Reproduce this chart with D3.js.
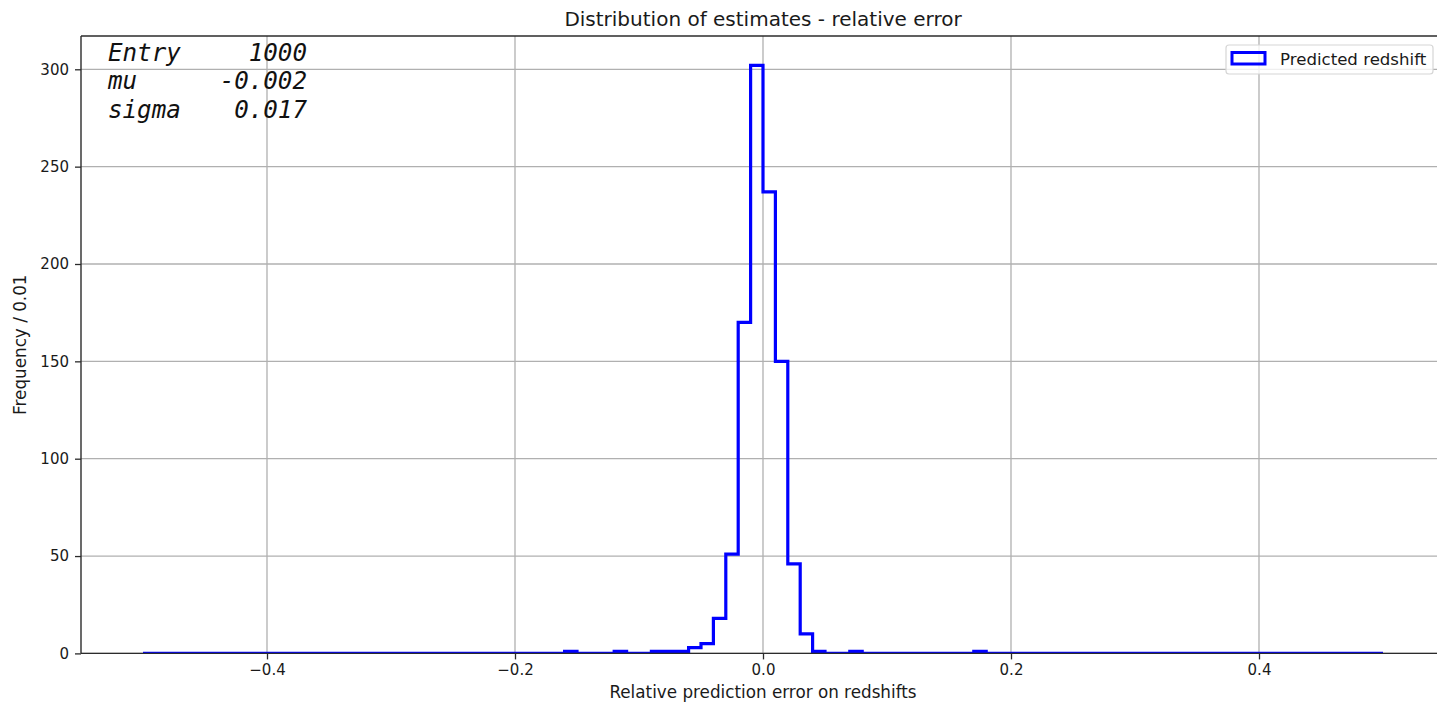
<!DOCTYPE html>
<html>
<head>
<meta charset="utf-8">
<script src="https://cdn.jsdelivr.net/npm/d3@7"></script>
<style>
  html, body { margin: 0; padding: 0; background: #fff; }
  svg { display: block; font-family: "DejaVu Sans", sans-serif; }
</style>
</head>
<body>
<svg id="chart" width="1437" height="705"></svg>
<script>
// ---- data ----
const binStart = -0.5;
const binWidth = 0.01;
const counts = [
  0, 0, 0, 0, 0, 0, 0, 0, 0, 0,
  0, 0, 0, 0, 0, 0, 0, 0, 0, 0,
  0, 0, 0, 0, 0, 0, 0, 0, 0, 0,
  0, 0, 0, 0, 1, 0, 0, 0, 1, 0,
  0, 1, 1, 1, 3, 5, 18, 51, 170, 302,
  237, 150, 46, 10, 1, 0, 0, 1, 0, 0,
  0, 0, 0, 0, 0, 0, 0, 1, 0, 0,
  0, 0, 0, 0, 0, 0, 0, 0, 0, 0,
  0, 0, 0, 0, 0, 0, 0, 0, 0, 0,
  0, 0, 0, 0, 0, 0, 0, 0, 0, 0
];
const xTicks = [-0.4, -0.2, 0.0, 0.2, 0.4];
const yTicks = [0, 50, 100, 150, 200, 250, 300];
const statLabels = ["Entry", "mu", "sigma"];
const statValues = ["1000", "-0.002", "0.017"];
const title = "Distribution of estimates - relative error";
const xLabel = "Relative prediction error on redshifts";
const yLabel = "Frequency / 0.01";
const legendLabel = "Predicted redshift";

(function () {
// ---- layout ----
const svg = d3.select("#chart");
const pLeft = 81, pRight = 1445, pTop = 36, pBottom = 653.4;
const binEnd = binStart + binWidth * counts.length;
const xPad = (binEnd - binStart) * 0.05;
const yMax = d3.max(counts) * 1.05;

const x = d3.scaleLinear().domain([binStart - xPad, binEnd + xPad]).range([pLeft, pRight]);
const y = d3.scaleLinear().domain([0, yMax]).range([pBottom, pTop]);

const gridColor = "#b0b0b0";
const spineColor = "#2b2b2b";
const textColor = "#1a1a1a";

svg.append("defs").append("clipPath").attr("id", "clip")
  .append("rect").attr("x", pLeft).attr("y", pTop).attr("width", pRight - pLeft).attr("height", pBottom - pTop);

// grid
const grid = svg.append("g");
grid.selectAll("line.gx").data(xTicks).join("line")
  .attr("class", "gx")
  .attr("x1", d => x(d)).attr("x2", d => x(d))
  .attr("y1", pTop).attr("y2", pBottom)
  .attr("stroke", gridColor).attr("stroke-width", 1.3);
grid.selectAll("line.gy").data(yTicks).join("line")
  .attr("class", "gy")
  .attr("x1", pLeft).attr("x2", pRight)
  .attr("y1", d => y(d)).attr("y2", d => y(d))
  .attr("stroke", gridColor).attr("stroke-width", 1.3);

// histogram step outline
const pts = [[binStart, 0]];
counts.forEach((c, i) => {
  const a = binStart + i * binWidth;
  pts.push([a, c]);
  pts.push([a + binWidth, c]);
});
pts.push([binEnd, 0]);
const line = d3.line().x(d => x(d[0])).y(d => y(d[1]));
svg.append("path")
  .attr("d", line(pts))
  .attr("clip-path", "url(#clip)")
  .attr("fill", "none")
  .attr("stroke", "#0000ff")
  .attr("stroke-width", 3.2)
  .attr("stroke-linejoin", "miter");

// axes
const fmtX = d => d3.format(".1f")(d).replace("-", "\u2212");
const xAxis = svg.append("g").attr("transform", `translate(0,${pBottom})`)
  .call(d3.axisBottom(x).tickValues(xTicks).tickFormat(fmtX).tickSize(6).tickPadding(5));
const yAxis = svg.append("g").attr("transform", `translate(${pLeft},0)`)
  .call(d3.axisLeft(y).tickValues(yTicks).tickFormat(d3.format("d")).tickSize(6).tickPadding(6));
[xAxis, yAxis].forEach(g => {
  g.select(".domain").remove();
  g.selectAll(".tick line").attr("stroke", spineColor).attr("stroke-width", 1.3);
  g.selectAll(".tick text").attr("fill", textColor)
    .style("font-family", "DejaVu Sans").style("font-size", "15px");
});

// spines (right spine lies outside the visible window)
const spines = svg.append("g").attr("stroke", spineColor).attr("stroke-width", 1.4).attr("fill", "none");
spines.append("line").attr("x1", pLeft).attr("x2", pLeft).attr("y1", pTop).attr("y2", pBottom);
spines.append("line").attr("x1", pLeft).attr("x2", pRight).attr("y1", pBottom).attr("y2", pBottom);
spines.append("line").attr("x1", pLeft).attr("x2", pRight).attr("y1", pTop).attr("y2", pTop);

// title and labels
svg.append("text").attr("x", x(0)).attr("y", 26)
  .attr("text-anchor", "middle").attr("fill", textColor)
  .style("font-size", "20px").text(title);
svg.append("text").attr("x", x(0)).attr("y", 698)
  .attr("text-anchor", "middle").attr("fill", textColor)
  .style("font-size", "16.8px").text(xLabel);
svg.append("text")
  .attr("transform", `translate(26,${(pTop + pBottom) / 2}) rotate(-90)`)
  .attr("text-anchor", "middle").attr("fill", textColor)
  .style("font-size", "16.8px").text(yLabel);

// stats box text
const stats = svg.append("g")
  .style("font-family", "'DejaVu Sans Mono', monospace")
  .style("font-style", "italic").style("font-size", "24.2px")
  .attr("fill", "#111");
statLabels.forEach((s, i) => {
  stats.append("text").attr("x", 108).attr("y", 61 + i * 28.4).text(s);
  stats.append("text").attr("x", 307).attr("y", 61 + i * 28.4)
    .attr("text-anchor", "end").text(statValues[i]);
});

// legend
const lg = svg.append("g");
lg.append("rect").attr("x", 1226).attr("y", 45).attr("width", 207).attr("height", 29)
  .attr("rx", 3).attr("fill", "#fff").attr("fill-opacity", 0.8)
  .attr("stroke", "#d6d6d6").attr("stroke-width", 1.2);
lg.append("rect").attr("x", 1232).attr("y", 52.5).attr("width", 33).attr("height", 11.5)
  .attr("fill", "none").attr("stroke", "#0000ff").attr("stroke-width", 3);
lg.append("text").attr("x", 1280).attr("y", 65).attr("fill", textColor)
  .style("font-size", "16.6px").text(legendLabel);
})();
</script>
</body>
</html>
